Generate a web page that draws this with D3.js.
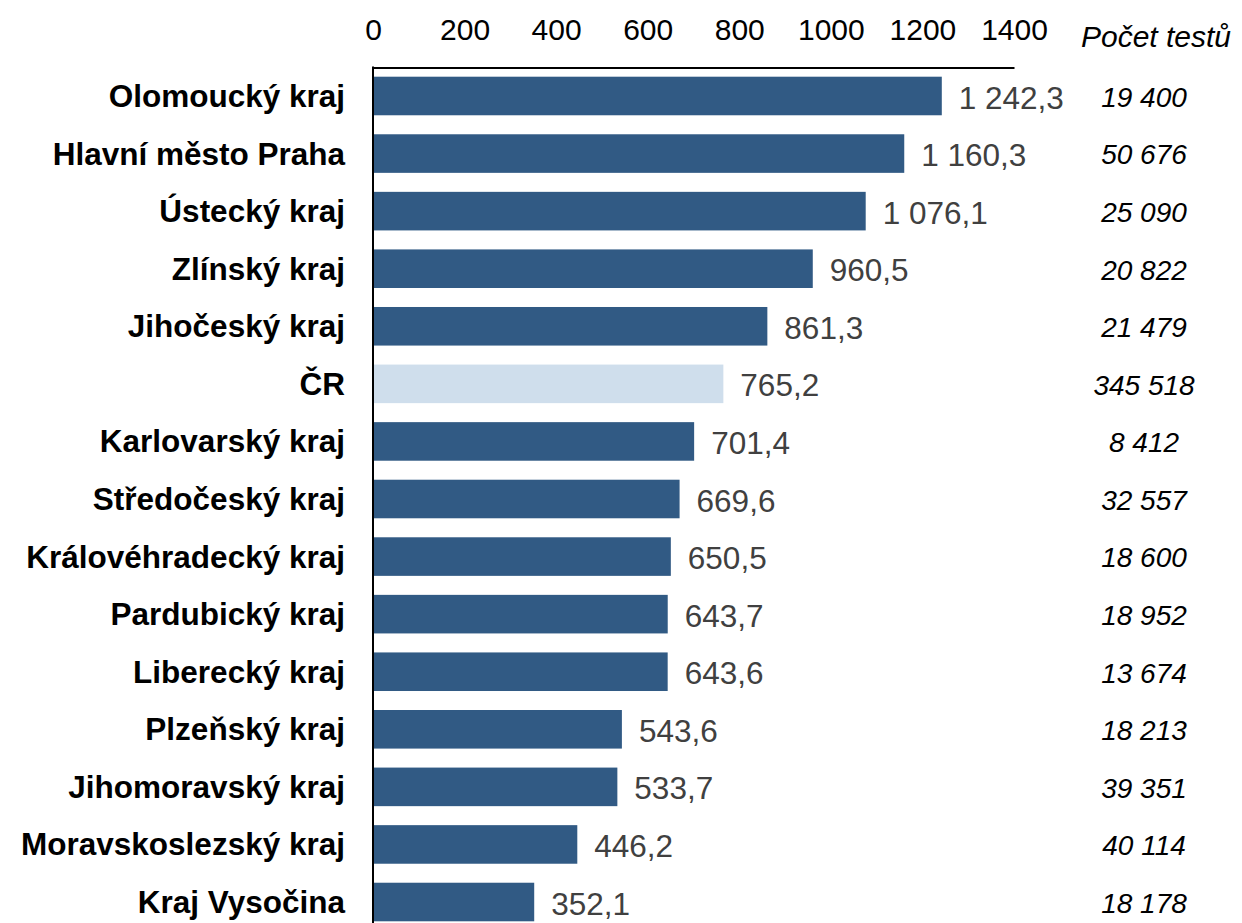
<!DOCTYPE html>
<html><head><meta charset="utf-8">
<script src="https://cdn.jsdelivr.net/npm/d3@7"></script>
<style>body{margin:0;background:#fff}svg{display:block}</style>
</head><body>
<svg id="c" width="1242" height="923"></svg>
<script>
const categories = ["Olomoucký kraj","Hlavní město Praha","Ústecký kraj","Zlínský kraj","Jihočeský kraj","ČR","Karlovarský kraj","Středočeský kraj","Královéhradecký kraj","Pardubický kraj","Liberecký kraj","Plzeňský kraj","Jihomoravský kraj","Moravskoslezský kraj","Kraj Vysočina"];
const values = [1242.3,1160.3,1076.1,960.5,861.3,765.2,701.4,669.6,650.5,643.7,643.6,543.6,533.7,446.2,352.1];
const tests = [19400,50676,25090,20822,21479,345518,8412,32557,18600,18952,13674,18213,39351,40114,18178];
const xTicks = [0,200,400,600,800,1000,1200,1400];
const highlight = "ČR";

const svg = d3.select("#c");
const font = "'Liberation Sans', Arial, sans-serif";
const x = d3.scaleLinear().domain([0,1400]).range([373,1014]);
const y = d3.scaleBand().domain(categories).range([67.2,930.8]).paddingInner(0.33).paddingOuter(0.165);
const fmt = v => {
  const [i,d] = v.toFixed(1).split(".");
  return i.replace(/\B(?=(\d{3})+(?!\d))/g," ") + "," + d;
};
const fmtInt = v => String(v).replace(/\B(?=(\d{3})+(?!\d))/g," ");

// bars
svg.selectAll("rect.bar").data(categories).join("rect")
  .attr("x", x(0)).attr("y", d => y(d))
  .attr("width", (d,i) => x(values[i]) - x(0))
  .attr("height", y.bandwidth())
  .attr("fill", d => d === highlight ? "#CFDEEC" : "#315A84");

// top axis
const ax = svg.append("g").attr("transform","translate(0,67.5)")
  .call(d3.axisTop(x).tickValues(xTicks).tickSize(0).tickPadding(28).tickFormat(d3.format("d")));
ax.select(".domain").attr("stroke","#000").attr("stroke-width",2);
ax.selectAll("text").attr("font-family",font).attr("font-size",30).attr("fill","#000");

// left axis line
svg.append("line").attr("x1",373).attr("x2",373).attr("y1",66.5).attr("y2",923).attr("stroke","#000").attr("stroke-width",2);

// category labels
svg.selectAll("text.cat").data(categories).join("text")
  .attr("x",345).attr("y", d => y(d)+y.bandwidth()/2).attr("dy","0.35em")
  .attr("text-anchor","end").attr("font-family",font).attr("font-weight","bold").attr("font-size",31.5)
  .attr("fill","#000").text(d => d);

// value labels
svg.selectAll("text.val").data(categories).join("text")
  .attr("x",(d,i) => x(values[i]) + 17).attr("y", d => y(d)+y.bandwidth()/2 + 1.5).attr("dy","0.35em")
  .attr("font-family",font).attr("font-size",31.5).attr("fill","#404040")
  .text((d,i) => fmt(values[i]));

// tests column
svg.append("text").attr("x",1156).attr("y",47).attr("text-anchor","middle")
  .attr("font-family",font).attr("font-style","italic").attr("font-size",30).attr("fill","#000").text("Počet testů");
svg.selectAll("text.tst").data(categories).join("text")
  .attr("x",1144).attr("y", d => y(d)+y.bandwidth()/2 + 1).attr("dy","0.35em")
  .attr("text-anchor","middle").attr("font-family",font).attr("font-style","italic").attr("font-size",28)
  .attr("fill","#000").text((d,i) => fmtInt(tests[i]));
</script>
</body></html>
